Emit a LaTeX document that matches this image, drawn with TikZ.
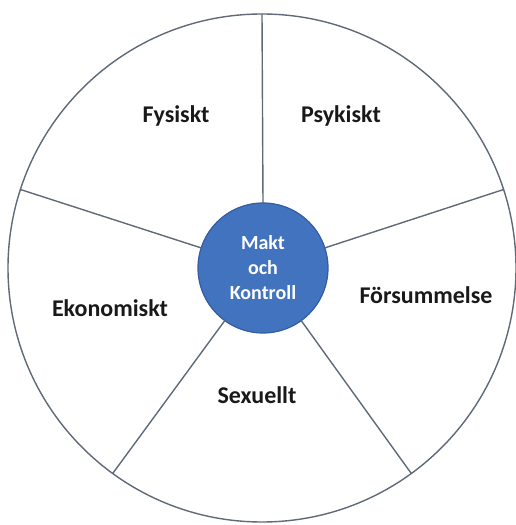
\documentclass[tikz,border=0pt]{standalone}
\usepackage{fontspec}
\setmainfont{Carlito}
\usepackage{tikz}
\definecolor{spokegray}{RGB}{95,105,120}
\definecolor{coreblue}{RGB}{66,115,190}
\definecolor{coreedge}{RGB}{52,92,160}
\tikzstyle{wheel_block} = [circle, draw=spokegray, line width=1.4pt, inner sep=0pt, outer sep=0pt, minimum size=508pt]
\tikzstyle{core_block} = [circle, draw=coreedge, line width=1.2pt, fill=coreblue, inner sep=0pt, outer sep=0pt, minimum size=130pt, text=white, align=center, font=\fontsize{20}{25}\selectfont\bfseries]
\tikzstyle{spoke} = [draw=spokegray, line width=1.4pt]
\tikzstyle{label} = [anchor=base, font=\fontsize{24}{28}\selectfont\bfseries, text=black!90]

\begin{document}
\begin{tikzpicture}[x=1pt,y=1pt]

\useasboundingbox (0,0) rectangle (516,525);

\node[wheel_block] (wheel) at (262,257) {};
\node[core_block] (core) at (263,257) {Makt\\och\\Kontroll};

\draw[spoke] (core.90)  -- (wheel.90);
\draw[spoke] (core.18)  -- (wheel.18);
\draw[spoke] (core.162) -- (wheel.162);
\draw[spoke] (core.234) -- (wheel.234);
\draw[spoke] (core.306) -- (wheel.306);

\node[label] (fysiskt)     at (176,402) {Fysiskt};
\node[label] (psykiskt)    at (341,402) {Psykiskt};
\node[label] (ekonomiskt)  at (110,208) {Ekonomiskt};
\node[label] (forsummelse) at (426,221) {Försummelse};
\node[label] (sexuellt)    at (257,121) {Sexuellt};
\end{tikzpicture}
\end{document}
